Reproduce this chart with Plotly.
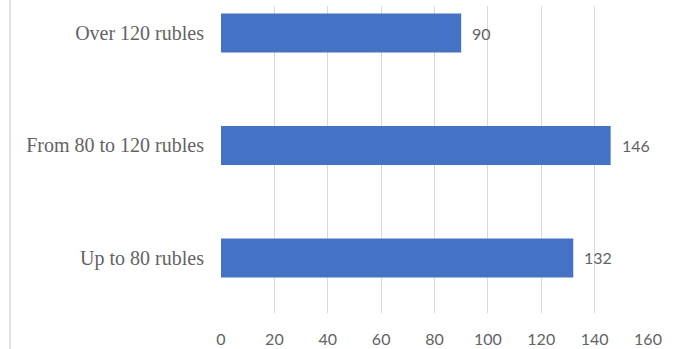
import plotly.graph_objects as go

# Price bands and number of responses
categories = ["Up to 80 rubles", "From 80 to 120 rubles", "Over 120 rubles"]
values = [132, 146, 90]
x_ticks = [0, 20, 40, 60, 80, 100, 120, 140, 160]

W, H = 675, 349
L, R, T, B = 221, 27, 6, 36
plot_w = W - L - R

fig = go.Figure()
fig.add_trace(go.Bar(
    x=values,
    y=categories,
    orientation="h",
    width=0.345,
    marker=dict(color="#4472C4", line=dict(width=0)),
    hoverinfo="x+y",
))

# value labels just right of each bar end
for v, c in zip(values, categories):
    fig.add_annotation(
        x=v, y=c, text=str(v), showarrow=False,
        xanchor="left", yanchor="middle", xshift=9,
        font=dict(family="Lato, Liberation Sans, sans-serif", size=16, color="#636363"),
    )

# thin frame line on the left side of the chart area
fig.add_shape(
    type="line", xref="paper", yref="paper",
    x0=(10 - L) / plot_w, x1=(10 - L) / plot_w, y0=-0.2, y1=1.05,
    line=dict(color="#d9d9d9", width=1.5),
)

fig.update_layout(
    width=W, height=H,
    margin=dict(l=L, r=R, t=T, b=B, autoexpand=False),
    paper_bgcolor="white",
    plot_bgcolor="white",
    showlegend=False,
    xaxis=dict(
        range=[0, 160],
        tickvals=x_ticks,
        showgrid=True,
        gridcolor="#d9d9d9",
        gridwidth=1,
        zeroline=False,
        showline=False,
        ticks="",
        automargin=False,
        ticklabelstandoff=15,
        tickfont=dict(family="Lato, Liberation Sans, sans-serif", size=16, color="#636363"),
    ),
    yaxis=dict(
        type="category",
        categoryorder="array",
        categoryarray=categories,
        range=[-0.489, 2.24],
        showgrid=False,
        zeroline=False,
        showline=False,
        ticks="",
        automargin=False,
        ticklabelstandoff=16,
        tickfont=dict(family="Liberation Serif, Times New Roman, serif", size=20, color="#636363"),
    ),
)

fig.write_html("out.html")
